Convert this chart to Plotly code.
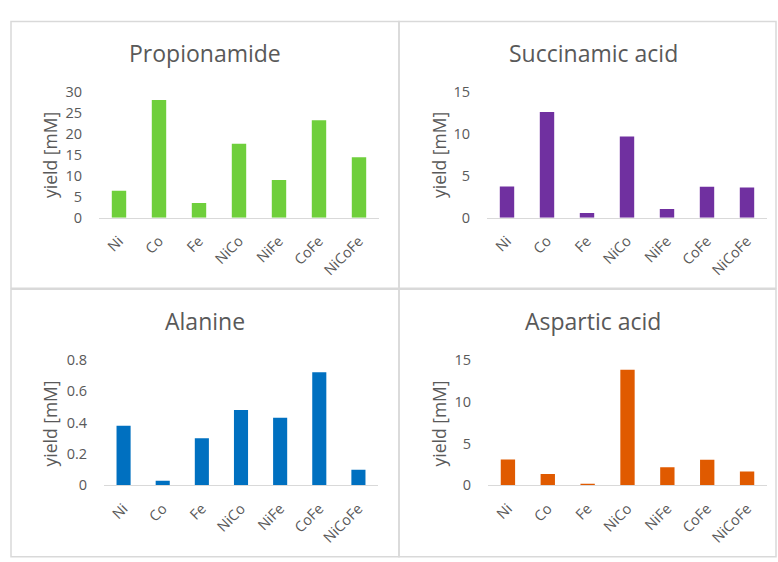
import plotly.graph_objects as go

W, H = 778, 562

categories = ["Ni", "Co", "Fe", "NiCo", "NiFe", "CoFe", "NiCoFe"]

propionamide = [6.4, 28.0, 3.5, 17.6, 9.0, 23.2, 14.4]
succinamic_acid = [3.7, 12.55, 0.57, 9.65, 1.03, 3.67, 3.6]
alanine = [0.38, 0.03, 0.30, 0.48, 0.43, 0.72, 0.10]
aspartic_acid = [3.1, 1.35, 0.2, 13.8, 2.15, 3.05, 1.65]

titles = ["Propionamide", "Succinamic acid", "Alanine", "Aspartic acid"]
colors = ["#6fcf3c", "#7030a0", "#0070c0", "#e05a00"]
y_ranges = [[0, 30], [0, 15], [0, 0.8], [0, 15]]
y_dticks = [5, 5, 0.2, 5]

# pixel boxes of each plot area: (x0, x1, y_top, y_bottom)
boxes = [
    (99, 379, 84.5, 215),
    (487, 767, 84.3, 215),
    (104, 378, 362, 492),
    (488, 767, 362, 492),
]
# panel frames (x0, y0, x1, y1) in pixels
frames = [
    (11, 12, 399, 288),
    (399, 12, 776, 288),
    (11, 289, 399, 566),
    (399, 289, 776, 566),
]
title_pos = [(205, 45), (593, 45), (205, 322), (593, 322)]
ytitle_pos = [(50, 150), (439, 150), (50, 428), (439, 428)]

FONT = "Open Sans"
GRAY = "#595959"

def px(x):
    return x / W

def py(y):
    return 1 - y / H

series = [propionamide, succinamic_acid, alanine, aspartic_acid]

fig = go.Figure()
layout = dict(
    width=W, height=H,
    margin=dict(l=0, r=0, t=0, b=0),
    paper_bgcolor="white", plot_bgcolor="white",
    showlegend=False,
    bargap=0.64,
    font=dict(family=FONT, color=GRAY),
    shapes=[], annotations=[],
)

for i, vals in enumerate(series):
    n = "" if i == 0 else str(i + 1)
    fig.add_trace(go.Bar(
        x=categories, y=vals, marker=dict(color=colors[i], line=dict(width=0)),
        xaxis="x" + n, yaxis="y" + n, hoverinfo="x+y",
    ))
    x0, x1, yt, yb = boxes[i]
    layout["xaxis" + n] = dict(
        domain=[px(x0), px(x1)], anchor="y" + n,
        showline=True, linecolor="#d9d9d9", linewidth=1.3,
        ticks="outside", ticklen=8, tickcolor="rgba(0,0,0,0)",
        tickangle=-45, tickfont=dict(family=FONT, size=14.5, color=GRAY),
        showgrid=False, zeroline=False, fixedrange=True,
    )
    layout["yaxis" + n] = dict(
        domain=[py(yb), py(yt)], anchor="x" + n,
        range=y_ranges[i], dtick=y_dticks[i], tick0=0,
        showline=False, showgrid=False, zeroline=False,
        ticks="outside", ticklen=13, tickcolor="rgba(0,0,0,0)",
        tickfont=dict(family=FONT, size=14.5, color=GRAY),
        fixedrange=True,
    )
    fx0, fy0, fx1, fy1 = frames[i]
    layout["shapes"].append(dict(
        type="rect", xref="paper", yref="paper",
        x0=px(fx0), x1=px(fx1), y0=py(fy1), y1=py(fy0),
        line=dict(color="#d9d9d9", width=1.5), layer="below",
    ))
    tx, ty = title_pos[i]
    layout["annotations"].append(dict(
        text=titles[i], xref="paper", yref="paper", x=px(tx), y=py(ty),
        xanchor="center", yanchor="middle", showarrow=False,
        font=dict(family=FONT, size=23, color=GRAY),
    ))
    ax, ay = ytitle_pos[i]
    layout["annotations"].append(dict(
        text="yield [mM]", xref="paper", yref="paper", x=px(ax), y=py(ay),
        xanchor="center", yanchor="middle", showarrow=False, textangle=-90,
        font=dict(family=FONT, size=17.5, color=GRAY),
    ))

fig.update_layout(**layout)
fig.write_html("out.html")
